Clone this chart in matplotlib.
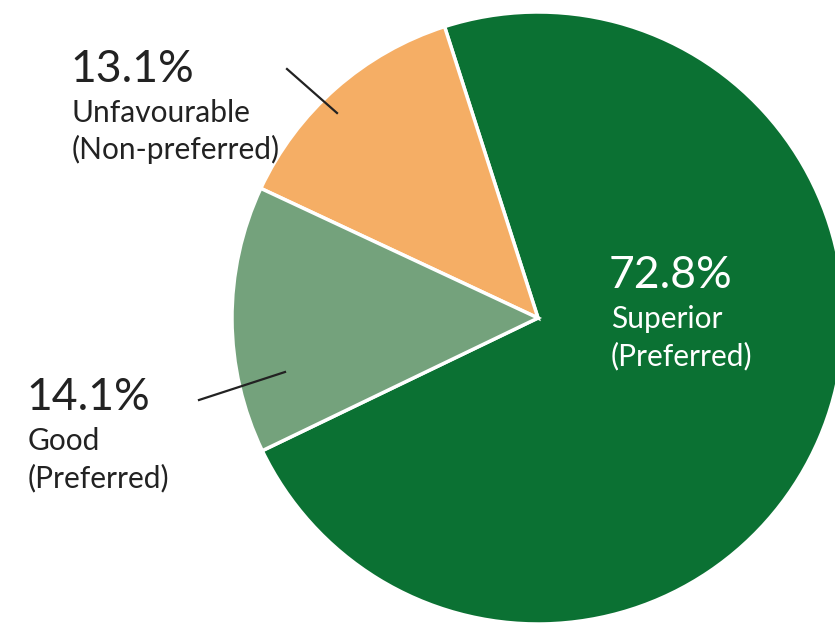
import matplotlib
matplotlib.use("Agg")
import matplotlib.pyplot as plt

# share of responses per rating
labels = ["Superior", "Unfavourable", "Good"]
notes = ["(Preferred)", "(Non-preferred)", "(Preferred)"]
shares = [72.8, 13.1, 14.1]
colors = ["#0b7133", "#f5ae65", "#74a27c"]

W, H = 835, 628
fig = plt.figure(figsize=(W / 100, H / 100), dpi=100)
ax = fig.add_axes([0, 0, 1, 1])

# pie centre and radius in pixels
cx, cy, r = 538, 318, 306
ax.pie(shares, colors=colors, startangle=205.7, counterclock=True,
       wedgeprops=dict(edgecolor="white", linewidth=2.5))
ax.set_xlim(-cx / r, (W - cx) / r)
ax.set_ylim(-(H - cy) / r, cy / r)
ax.set_aspect("equal")
ax.axis("off")

def px(x, y):
    return x / W, 1 - y / H

font = "Lato"
dark = "#222222"

def block(x, y, pct, name, note, color):
    fig.text(*px(x, y), f"{pct}%", fontsize=32, family=font, color=color,
             va="baseline", ha="left")
    fig.text(*px(x + 2, y + 40), name, fontsize=21.5, family=font,
             color=color, va="baseline", ha="left")
    fig.text(*px(x + 2, y + 77), note, fontsize=21.5, family=font,
             color=color, va="baseline", ha="left")

block(70, 82, shares[1], labels[1], notes[1], dark)
block(26, 410, shares[2], labels[2], notes[2], dark)
block(609, 288, shares[0], labels[0], notes[0], "white")

# leader lines
fig.add_artist(plt.Line2D([287 / W, 337 / W], [1 - 69 / H, 1 - 113 / H],
                          color=dark, lw=1.6))
fig.add_artist(plt.Line2D([199 / W, 285 / W], [1 - 400 / H, 1 - 372 / H],
                          color=dark, lw=1.6))

fig.savefig("out.png", dpi=100, facecolor="white")
